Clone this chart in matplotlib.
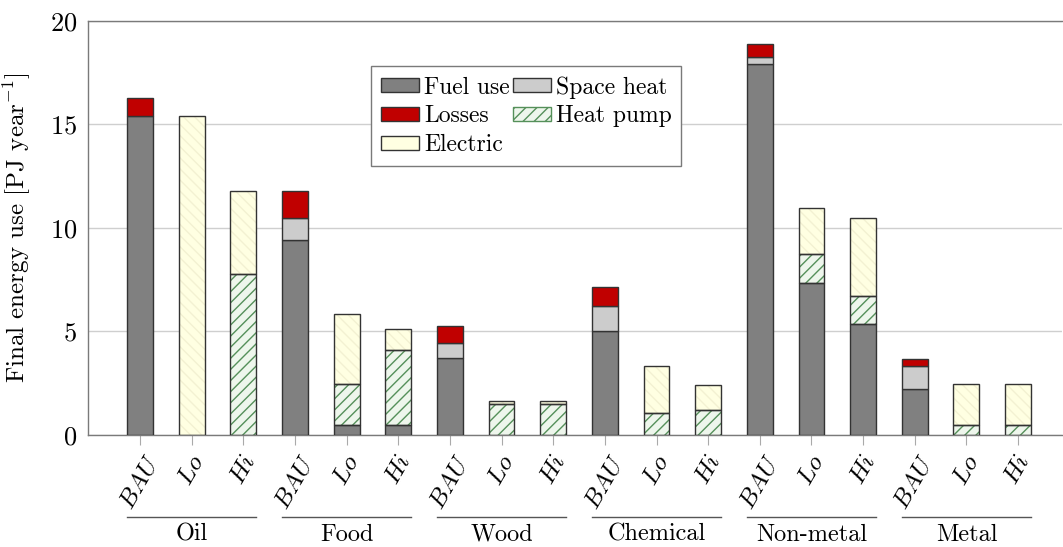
"""
Final energy use by sector and scenario — stacked bars.
"""

import matplotlib
matplotlib.use("Agg")
import matplotlib.pyplot as plt
from matplotlib.patches import Patch
import numpy as np

# ── Data ───────────────────────────────────────────────────────────────────
sectors   = ["Oil", "Food", "Wood", "Chemical", "Non-metal", "Metal"]
scenarios = ["BAU", "Lo", "Hi"]

# one value per bar, in order sector × scenario (PJ / year)
fuel_use   = [15.4, 0.0, 0.0,   9.4, 0.5, 0.5,   3.7, 0.0, 0.0,
              5.0, 0.0, 0.0,   17.9, 7.35, 5.35,  2.2, 0.0, 0.0]
space_heat = [0.0, 0.0, 0.0,   1.1, 0.0, 0.0,   0.75, 0.0, 0.0,
              1.25, 0.0, 0.0,  0.35, 0.0, 0.0,   1.15, 0.0, 0.0]
losses     = [0.9, 0.0, 0.0,   1.3, 0.0, 0.0,   0.8, 0.0, 0.0,
              0.9, 0.0, 0.0,   0.65, 0.0, 0.0,   0.3, 0.0, 0.0]
heat_pump  = [0.0, 0.0, 7.8,   0.0, 1.95, 3.6,  0.0, 1.5, 1.5,
              0.0, 1.05, 1.2,  0.0, 1.4, 1.35,   0.0, 0.5, 0.5]
electric   = [0.0, 15.4, 4.0,  0.0, 3.4, 1.0,   0.0, 0.12, 0.12,
              0.0, 2.3, 1.2,   0.0, 2.2, 3.8,    0.0, 1.95, 1.95]

# ── Palette ────────────────────────────────────────────────────────────────
FUEL_C   = "#808080"
SPACE_C  = "#cccccc"
LOSS_C   = "#c00000"
HP_FACE  = "#eef6ec"
HP_HATCH = "#55905a"
EL_FACE  = "#ffffe2"
EL_HATCH = "#f3f1d2"
EDGE     = "#333333"
SPINE    = "#7a7a7a"
GRID     = "#cfcfcf"

plt.rcParams["font.family"] = ["cmr10", "DejaVu Serif"]
plt.rcParams["mathtext.fontset"] = "cm"
plt.rcParams["axes.formatter.use_mathtext"] = True
plt.rcParams["hatch.linewidth"] = 1.0

fig = plt.figure(figsize=(10.63, 5.47), dpi=100)
ax = fig.add_axes([0.0828, 0.2048, 0.9162, 0.7568])

n = len(sectors) * len(scenarios)
x = np.arange(n)
W = 0.5

bottom = np.zeros(n)
# stack order: fuel, space heat, losses for BAU; fuel, heat pump, electric otherwise
layers = [
    (fuel_use,   FUEL_C,  None,     None),
    (space_heat, SPACE_C, None,     None),
    (losses,     LOSS_C,  None,     None),
    (heat_pump,  HP_FACE, "///",    HP_HATCH),
    (electric,   EL_FACE, "\\\\\\", EL_HATCH),
]
for vals, face, hatch, hcol in layers:
    vals = np.array(vals)
    mask = vals > 0
    if hatch:
        ax.bar(x[mask], vals[mask], W, bottom=bottom[mask], color=face,
               hatch=hatch, edgecolor=hcol, linewidth=0, zorder=2)
        ax.bar(x[mask], vals[mask], W, bottom=bottom[mask], fill=False,
               edgecolor=EDGE, linewidth=1.0, zorder=3)
    else:
        ax.bar(x[mask], vals[mask], W, bottom=bottom[mask], color=face,
               edgecolor=EDGE, linewidth=1.0, zorder=3)
    bottom += vals

ax.set_xlim(-1.007, 17.85)
ax.set_ylim(0, 20)
ax.set_yticks([0, 5, 10, 15, 20])
ax.grid(True, axis="y", color=GRID, linewidth=1.0)
ax.set_axisbelow(True)
ax.tick_params(axis="y", length=0, labelsize=19, pad=8)
ax.tick_params(axis="x", length=7, color="#aaaaaa", direction="out", pad=5)

ax.set_xticks(x)
ax.set_xticklabels([f"${s}$" for _ in sectors for s in scenarios],
                   rotation=60, ha="center", va="top", fontsize=18)

for spine in ax.spines.values():
    spine.set_color(SPINE)
    spine.set_linewidth(1.0)
ax.spines["right"].set_visible(False)

ax.set_ylabel(r"Final energy use [PJ year$^{-1}$]", fontsize=18, labelpad=12)

# group labels with rule above
trans = ax.get_xaxis_transform()
for i, name in enumerate(sectors):
    x0 = 3 * i - W / 2
    x1 = 3 * i + 2 + W / 2
    ax.plot([x0, x1], [-0.198, -0.198], transform=trans, color="#555555",
            linewidth=1.0, clip_on=False)
    ax.text(3 * i + 1, -0.241, name, transform=trans, ha="center",
            va="center", fontsize=17.5)

handles = [
    Patch(facecolor=FUEL_C, edgecolor=EDGE, label="Fuel use"),
    Patch(facecolor=LOSS_C, edgecolor=EDGE, label="Losses"),
    Patch(facecolor=EL_FACE, edgecolor=EDGE, label="Electric"),
    Patch(facecolor=SPACE_C, edgecolor=EDGE, label="Space heat"),
    Patch(facecolor=HP_FACE, edgecolor=HP_HATCH, hatch="///", label="Heat pump"),
]
leg = ax.legend(handles=handles, ncol=2, loc="upper left",
                bbox_to_anchor=(0.291, 0.891), fontsize=17, frameon=True,
                fancybox=False, edgecolor=SPINE, framealpha=1,
                handlelength=1.6, handleheight=0.55, handletextpad=0.2,
                columnspacing=0.15, labelspacing=0.28, borderpad=0.42,
                borderaxespad=0)
leg.get_frame().set_linewidth(1.0)

fig.savefig("out.png", dpi=100, facecolor="white")
